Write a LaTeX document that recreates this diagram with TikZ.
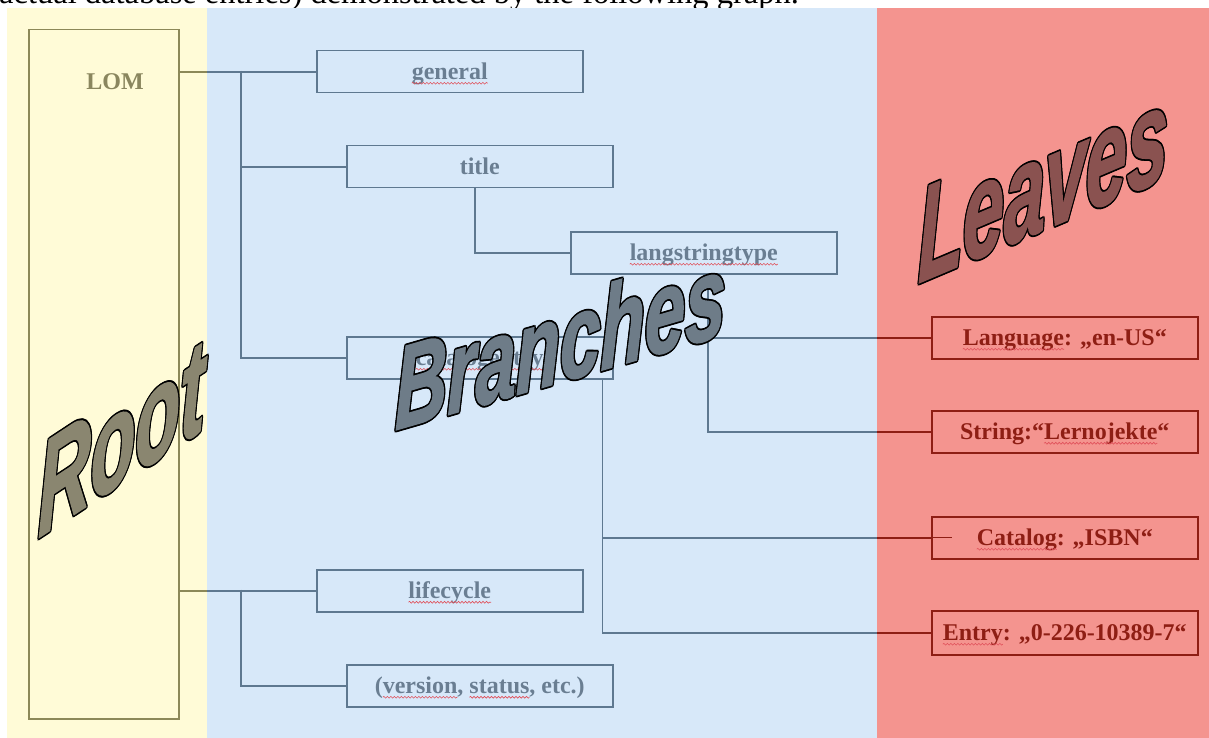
\documentclass[tikz,border=0pt]{standalone}
\usepackage{fontspec}
\setmainfont{Liberation Serif}
\newfontfamily\artfont[BoldItalicFeatures={FakeBold=1.6}]{Liberation Sans}
\usetikzlibrary{decorations.pathmorphing}
\definecolor{yellowbg}{HTML}{FFFBD7}
\definecolor{bluebg}{HTML}{D7E8F9}
\definecolor{redbg}{HTML}{F4948F}
\definecolor{bline}{HTML}{5E7890}
\definecolor{btext}{HTML}{6A7E92}
\definecolor{rline}{HTML}{8E1E14}
\definecolor{oline}{HTML}{8C8858}
\definecolor{otext}{HTML}{8A865E}
\definecolor{rootfill}{HTML}{8A8670}
\definecolor{branchfill}{HTML}{6E7C88}
\definecolor{leavesfill}{HTML}{8A5250}
\definecolor{spell}{HTML}{E0505A}
\newcommand\spellul[1]{\tikz[baseline=(w.base)]{\node[inner sep=0pt, outer sep=0pt, minimum width=0pt, minimum height=0pt, text height=, text depth=, anchor=base, draw=none] (w) at (0,0) {#1};
  \draw[overlay, spell, line width=0.6pt, decorate, decoration={snake, amplitude=0.9pt, segment length=3.5pt}] ([yshift=-3.5pt]w.base west) -- ([yshift=-3.5pt]w.base east);}}
\newcommand\artword[7]{%
  \begin{scope}[shift={#1}, cm={#2,#3,0,1,(0,0)}]
    \foreach \dx/\dy in {2.2/0,-2.2/0,0/1.8,0/-1.8,1.6/1.3,-1.6/1.3,1.6/-1.3,-1.6/-1.3}{
      \node[wordart, font=\artfont\bfseries\itshape\fontsize{#4}{#4}\selectfont, text=black] at (\dx,\dy) {#6};}
    \node[wordart, font=\artfont\bfseries\itshape\fontsize{#4}{#4}\selectfont, text=#5] (#7) at (0,0) {#6};
  \end{scope}}
\tikzset{
  panel/.style={draw=none, inner sep=0pt, outer sep=0pt, anchor=north west, minimum height=730pt},
  bbox/.style={draw=bline, line width=1.5pt, minimum width=266pt, minimum height=42pt, inner sep=0pt,
    text height=17pt, text depth=1pt,
    text=btext, font=\bfseries\fontsize{24}{24}\selectfont, anchor=north west},
  rbox/.style={draw=rline, line width=1.5pt, minimum width=266pt, minimum height=42pt, inner sep=0pt,
    text height=17pt, text depth=1pt,
    text=rline, font=\bfseries\fontsize{24}{24}\selectfont, anchor=north west},
  bcon/.style={draw=bline, line width=1.6pt},
  rcon/.style={draw=rline, line width=1.6pt},
  ocon/.style={draw=oline, line width=1.6pt},
  wordart/.style={transform shape, anchor=base west, inner sep=0pt, outer sep=0pt},
}
\begin{document}
\begin{tikzpicture}[x=1pt, y=1pt]
\useasboundingbox (0,0) rectangle (1209,-738);
\clip (0,0) rectangle (1209,-738);
% cut-off caption line above the graphic
\node[anchor=base west, inner sep=0pt, font=\fontsize{32.5}{32.5}\selectfont] (caption) at (-1,-3.5)
  {actual database entries) demonstrated by the following graph.};
% panels
\node[panel, fill=yellowbg, minimum width=200pt] (yellowp) at (7,-8) {};
\node[panel, fill=bluebg, minimum width=670pt] (bluep) at (207,-8) {};
\node[panel, fill=redbg, minimum width=332pt] (redp) at (877,-8) {};
% root box
\node[draw=oline, line width=1.5pt, minimum width=150pt, minimum height=689pt, inner sep=0pt, anchor=north west] (lom) at (28,-29) {};
\node[text=otext, font=\bfseries\fontsize{24}{24}\selectfont, inner sep=0pt] (lomlabel) at (115,-82) {LOM};
% branch boxes
\node[bbox] (general) at (316,-50) {\spellul{general}};
\node[bbox] (title) at (346,-145) {title};
\node[bbox] (lang) at (570,-231) {\spellul{langstringtype}};
\node[bbox] (catentry) at (346,-336) {\spellul{catalogentry}};
\node[bbox] (lifecycle) at (316,-569) {\spellul{lifecycle}};
\node[bbox] (version) at (346,-664) {(\spellul{version}, \spellul{status}, etc.)};
% leaf boxes
\node[rbox] (language) at (931,-316) {\spellul{Language}: „en-US“};
\node[rbox] (string) at (931,-410) {String:“\spellul{Lernojekte}“};
\node[rbox] (catalog) at (931,-516) {\spellul{Catalog}: „ISBN“};
\node[rbox, minimum height=44pt] (entry) at (931,-610) {\spellul{Entry}: „0-226-10389-7“};
% connectors: root to branches
\draw[ocon] (lom.east |- general.west) -- (yellowp.east |- general.west);
\draw[bcon] (yellowp.east |- general.west) -- (general.west);
\coordinate (t1) at (241,-71);
\draw[bcon] (t1) |- (title.west);
\draw[bcon] (t1) |- (catentry.west);
\draw[ocon] (lom.east |- lifecycle.west) -- (yellowp.east |- lifecycle.west);
\draw[bcon] (yellowp.east |- lifecycle.west) -- (lifecycle.west);
\coordinate (t2) at (241,-589.5);
\draw[bcon] (t2) |- (version.west);
% title to langstringtype
\draw[bcon] ([xshift=-5pt]title.south) |- (lang.west);
% langstringtype to leaves
\coordinate (l1) at ([xshift=4pt]lang.south);
\draw[bcon] (l1) |- (redp.west |- language.west);
\draw[rcon] (redp.west |- language.west) -- (language.west);
\draw[bcon] (l1) |- (redp.west |- string.west);
\draw[rcon] (redp.west |- string.west) -- (string.west);
% catalogentry to leaves
\coordinate (c1) at ([xshift=-11pt]catentry.south east);
\draw[bcon] (c1) |- (redp.west |- catalog.west);
\draw[rcon] (redp.west |- catalog.west) -- (catalog.west);
\draw[draw=rline, line width=0.7pt] (catalog.west) -- ++(21,0);
\draw[bcon] (c1) |- (redp.west |- entry.west);
\draw[rcon] (redp.west |- entry.west) -- (entry.west);
% word art labels
\artword{(38,-538)}{0.554}{0.365}{132}{rootfill}{Root}{rootart}
\artword{(395,-430)}{0.62}{0.18}{117}{branchfill}{Branches}{branchart}
\artword{(918,-283)}{0.55}{0.233}{134}{leavesfill}{Leaves}{leavesart}
\end{tikzpicture}
\end{document}
